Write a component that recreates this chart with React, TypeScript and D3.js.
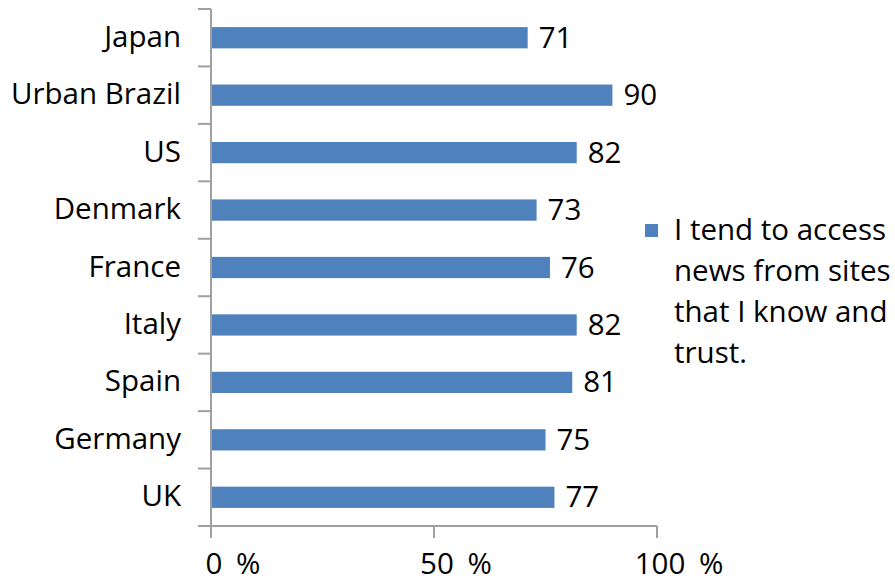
import React from "react";
import * as d3 from "d3";

const categories = ["Japan", "Urban Brazil", "US", "Denmark", "France", "Italy", "Spain", "Germany", "UK"];
const values = [71, 90, 82, 73, 76, 82, 81, 75, 77];
const xTicks = [0, 50, 100];
const xTickLabels = ["0 %", "50 %", "100 %"];
const legendLines = ["I tend to access", "news from sites", "that I know and", "trust."];

const W = 895;
const H = 579;
const FONT = "'Open Sans', Lato, sans-serif";
const FS = 29.5;

export default function App() {
  const x = d3.scaleLinear().domain([0, 100]).range([211, 657]);
  const y = d3.scaleBand().domain(categories).range([9, 526]).paddingInner(0.63).paddingOuter(0.315);
  const band = d3.scaleBand().domain(categories).range([9, 526]);
  const axisColor = "#A0A0A0";
  const barColor = "#4F81BD";
  return (
    <svg width={W} height={H} style={{ position: "absolute", left: 0, top: 0, background: "#fff" }}>
      {categories.map((c, i) => (
        <g key={c}>
          <rect x={x(0)} y={y(c)} width={x(values[i]) - x(0)} height={y.bandwidth()} fill={barColor} />
          <text x={x(values[i]) + 11} y={(y(c) as number) + y.bandwidth() / 2 + 10} fontSize={FS} fontFamily={FONT} fill="#000">
            {values[i]}
          </text>
          <text x={181} y={(band(c) as number) + band.bandwidth() / 2 + 9} fontSize={FS} fontFamily={FONT} textAnchor="end" fill="#000">
            {c}
          </text>
        </g>
      ))}
      {/* y axis */}
      <line x1={x(0)} x2={x(0)} y1={9} y2={538} stroke={axisColor} strokeWidth={2} />
      {categories.map((c) => (
        <line key={"t" + c} x1={198} x2={x(0)} y1={band(c) as number} y2={band(c) as number} stroke={axisColor} strokeWidth={2} />
      ))}
      {/* x axis */}
      <line x1={198} x2={x(100)} y1={526} y2={526} stroke={axisColor} strokeWidth={2} />
      {xTicks.map((t, i) => (
        <g key={"x" + t}>
          <line x1={x(t)} x2={x(t)} y1={526} y2={538} stroke={axisColor} strokeWidth={2} />
          <text x={x(t) + 22} y={574} fontSize={FS} fontFamily={FONT} textAnchor="middle" fill="#000" style={{ wordSpacing: "6px" }}>
            {xTickLabels[i]}
          </text>
        </g>
      ))}
      {/* legend */}
      <rect x={645} y={224} width={13} height={13} fill={barColor} />
      {legendLines.map((l, i) => (
        <text key={l} x={674} y={240 + i * 41} fontSize={FS} fontFamily={FONT} fill="#000">
          {l}
        </text>
      ))}
    </svg>
  );
}
